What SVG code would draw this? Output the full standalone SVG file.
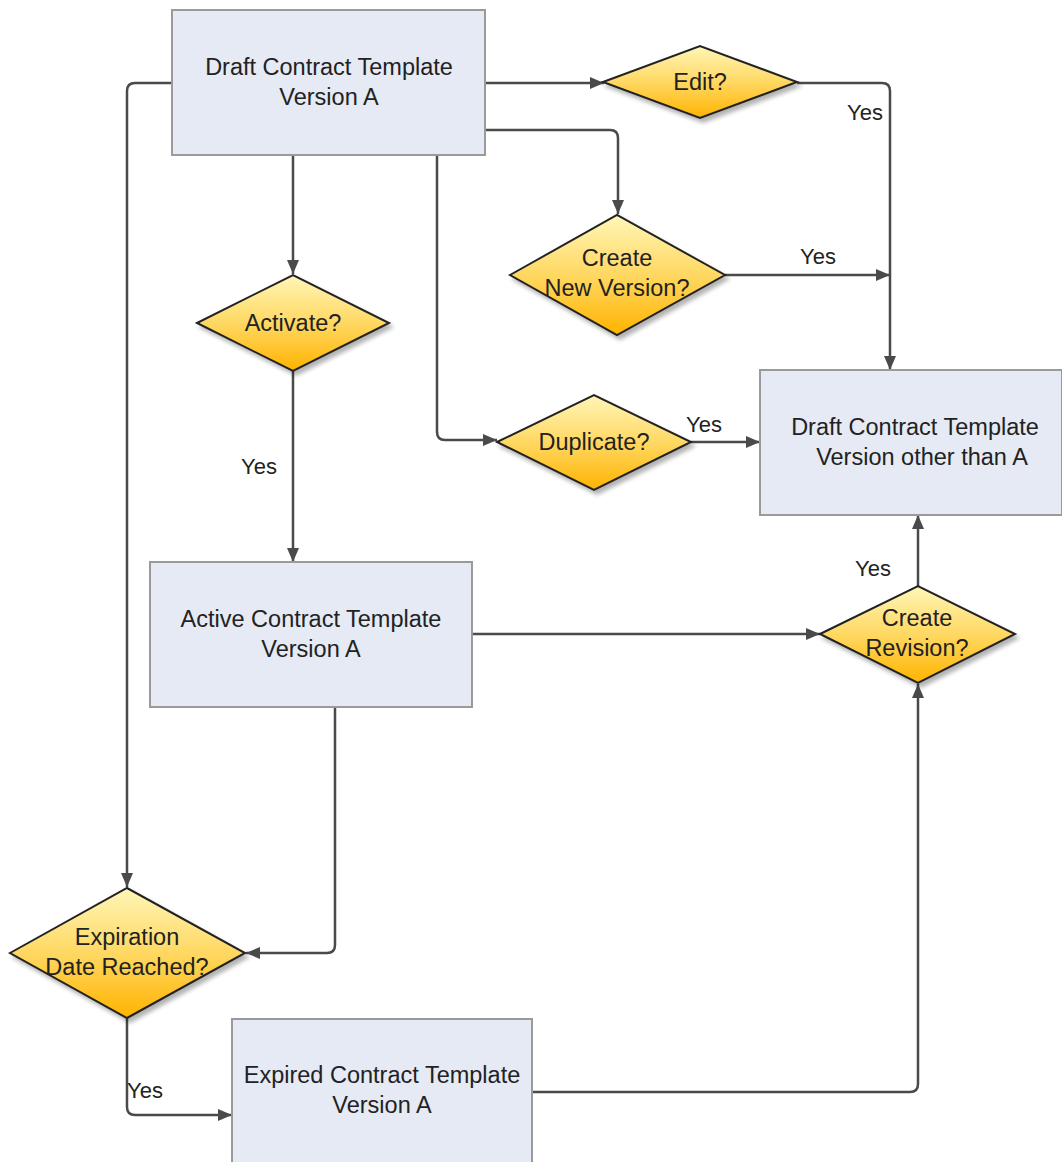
<svg xmlns="http://www.w3.org/2000/svg" width="1062" height="1162" viewBox="0 0 1062 1162">
<defs>
<linearGradient id="dg" x1="0" y1="0" x2="0" y2="1">
<stop offset="0" stop-color="#FFF6B8"/>
<stop offset="0.5" stop-color="#FFD862"/>
<stop offset="1" stop-color="#FFB300"/>
</linearGradient>
<filter id="sh" x="-10%" y="-10%" width="130%" height="130%">
<feGaussianBlur in="SourceAlpha" stdDeviation="2"/>
<feOffset dx="3" dy="4" result="b"/>
<feComponentTransfer><feFuncA type="linear" slope="0.3"/></feComponentTransfer>
<feMerge><feMergeNode/><feMergeNode in="SourceGraphic"/></feMerge>
</filter>
<marker id="ah" viewBox="0 0 14 12" refX="14" refY="6" markerWidth="14" markerHeight="12" markerUnits="userSpaceOnUse" orient="auto">
<path d="M0,0 L14,6 L0,12 Z" fill="#4a4a4a"/>
</marker>
</defs>
<style>
.box{fill:#E6EAF5;stroke:#9a9a9a;stroke-width:2}
.dia{fill:url(#dg);stroke:#222;stroke-width:2;filter:url(#sh)}
.t{font-family:"Liberation Sans",Arial,sans-serif;font-size:23.5px;fill:#222;text-anchor:middle}
.c{fill:none;stroke:#4a4a4a;stroke-width:2.5;marker-end:url(#ah)}
.lbl{font-family:"Liberation Sans",Arial,sans-serif;font-size:22px;fill:#222}
</style>
<rect width="1062" height="1162" fill="#fff"/>
<g id="connectors">
<path class="c" d="M485,83 H604"/>
<path class="c" d="M797,83 H882 Q890,83 890,91 V370"/>
<path class="c" d="M485,130 H610 Q618,130 618,138 V214"/>
<path class="c" d="M725,275 H890"/>
<path class="c" d="M293,155 V274"/>
<path class="c" d="M293,371 V562"/>
<path class="c" d="M437,155 V432 Q437,440 445,440 H497"/>
<path class="c" d="M691,442 H760"/>
<path class="c" d="M918,586 V515"/>
<path class="c" d="M472,634 H820"/>
<path class="c" d="M335,707 V945 Q335,953 327,953 H246"/>
<path class="c" d="M172,83 H135 Q127,83 127,91 V887"/>
<path class="c" d="M127,1018 V1107 Q127,1115 135,1115 H232"/>
<path class="c" d="M532,1092 H910 Q918,1092 918,1084 V684"/>
<text class="lbl" x="847" y="120">Yes</text>
<text class="lbl" x="800" y="264">Yes</text>
<text class="lbl" x="241" y="474">Yes</text>
<text class="lbl" x="686" y="432">Yes</text>
<text class="lbl" x="855" y="576">Yes</text>
<text class="lbl" x="127" y="1098">Yes</text>
</g>
<g id="draftA">
<rect class="box" x="172" y="10" width="313" height="145"/>
<text class="t" x="329" y="75">Draft Contract Template</text>
<text class="t" x="329" y="105">Version A</text>
</g>
<g id="edit">
<path class="dia" d="M603,82 L700,46 L797,82 L700,118 Z"/>
<text class="t" x="700" y="90">Edit?</text>
</g>
<g id="createNewVersion">
<path class="dia" d="M510,275 L617,215 L725,275 L617,335 Z"/>
<text class="t" x="617" y="266">Create</text>
<text class="t" x="617" y="296">New Version?</text>
</g>
<g id="activate">
<path class="dia" d="M197,323 L293,275 L389,323 L293,371 Z"/>
<text class="t" x="293" y="331">Activate?</text>
</g>
<g id="duplicate">
<path class="dia" d="M497,442 L594,395 L691,442 L594,490 Z"/>
<text class="t" x="594" y="450">Duplicate?</text>
</g>
<g id="draftOther">
<rect class="box" x="760" y="370" width="302" height="145"/>
<text class="t" x="915" y="435">Draft Contract Template</text>
<text class="t" x="922" y="465">Version other than A</text>
</g>
<g id="createRevision">
<path class="dia" d="M820,634 L918,586 L1015,634 L918,683 Z"/>
<text class="t" x="917" y="626">Create</text>
<text class="t" x="917" y="656">Revision?</text>
</g>
<g id="activeA">
<rect class="box" x="150" y="562" width="322" height="145"/>
<text class="t" x="311" y="627">Active Contract Template</text>
<text class="t" x="311" y="657">Version A</text>
</g>
<g id="expiration">
<path class="dia" d="M10,953 L127,888 L245,953 L127,1018 Z"/>
<text class="t" x="127" y="945">Expiration</text>
<text class="t" x="127" y="975">Date Reached?</text>
</g>
<g id="expiredA">
<rect class="box" x="232" y="1019" width="300" height="150"/>
<text class="t" x="382" y="1083">Expired Contract Template</text>
<text class="t" x="382" y="1113">Version A</text>
</g>
</svg>
